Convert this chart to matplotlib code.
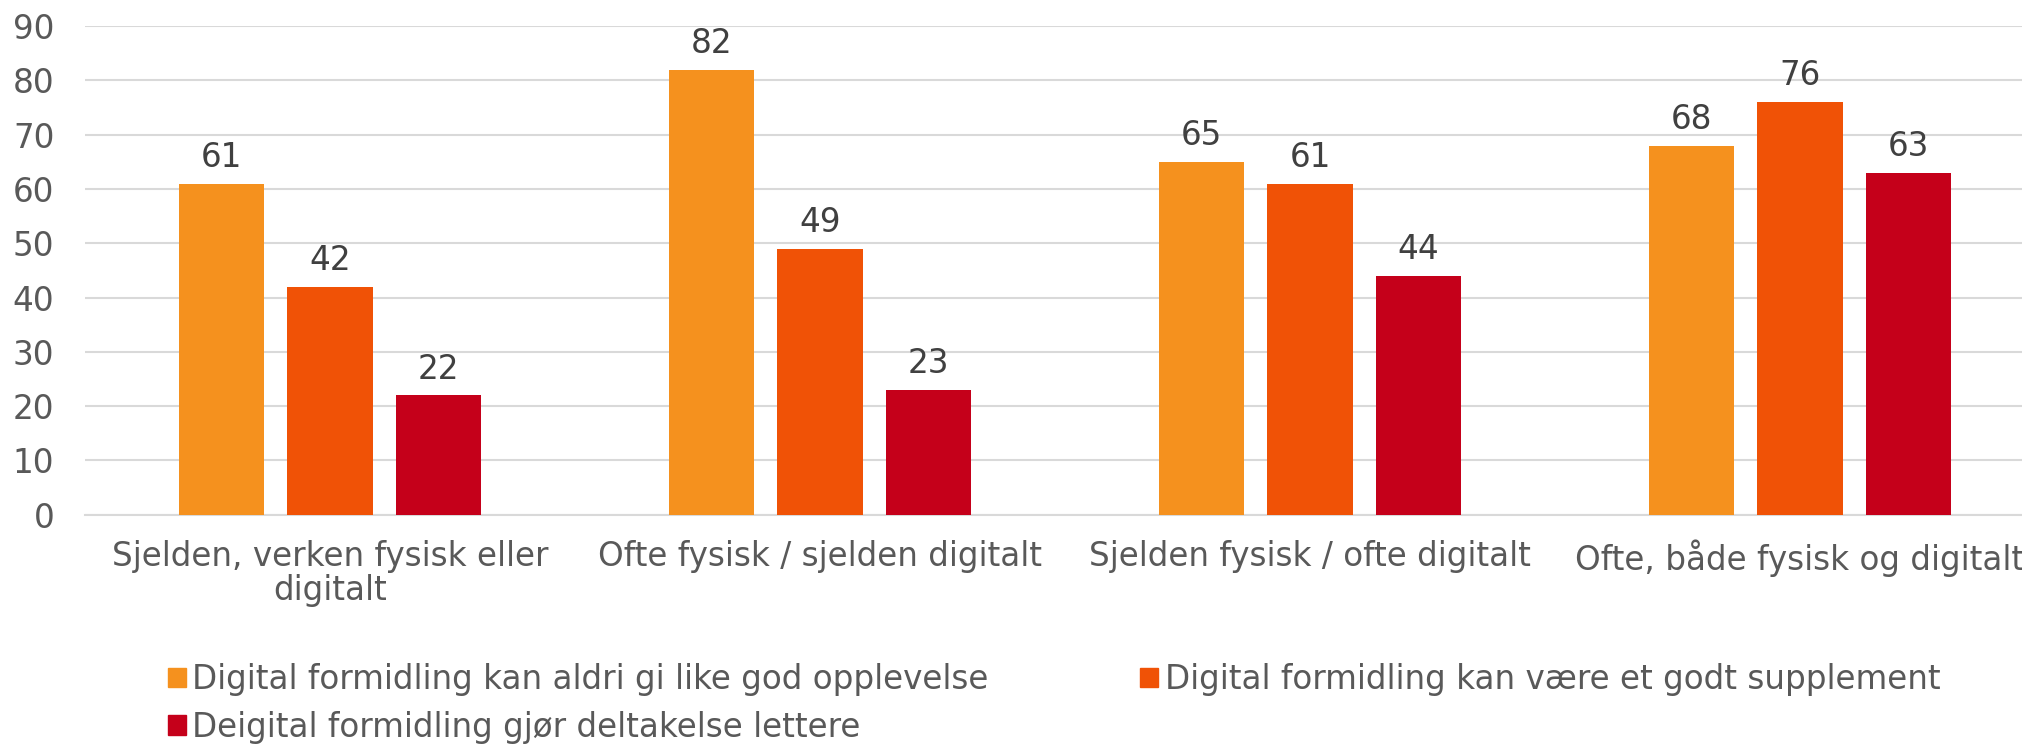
import matplotlib.pyplot as plt
from matplotlib.patches import Patch
import numpy as np

categories = ['Sjelden, verken fysisk eller\ndigitalt',
              'Ofte fysisk / sjelden digitalt',
              'Sjelden fysisk / ofte digitalt',
              'Ofte, både fysisk og digitalt']
series_names = ['Digital formidling kan aldri gi like god opplevelse',
                'Digital formidling kan være et godt supplement',
                'Deigital formidling gjør deltakelse lettere']
aldri = [61, 82, 65, 68]
supplement = [42, 49, 61, 76]
lettere = [22, 23, 44, 63]
yticks = [0, 10, 20, 30, 40, 50, 60, 70, 80, 90]

colors = ['#F5911E', '#F05206', '#C5001A']
plt.rcParams['font.family'] = 'DejaVu Sans'
fs = 23.5

fig = plt.figure(figsize=(20.22, 7.45), dpi=100)
ax = fig.add_axes([0.042, 0.309, 0.958, 0.656])

x = np.arange(len(categories))
width = 0.174
step = 0.221
for i, (vals, c) in enumerate(zip([aldri, supplement, lettere], colors)):
    pos = x + (i - 1) * step
    bars = ax.bar(pos, vals, width, color=c, zorder=3)
    for b, v in zip(bars, vals):
        ax.annotate(str(v), (b.get_x() + b.get_width() / 2, v),
                    xytext=(0, 7), textcoords='offset points',
                    ha='center', va='bottom', fontsize=fs, color='#404040')

# plot area is cut at the right edge, like the original
ax.set_xlim(-0.5, 3.453)
ax.set_ylim(0, 90)
ax.set_yticks(yticks)
ax.yaxis.grid(True, color='#D9D9D9', linewidth=1.5, zorder=0)
ax.set_axisbelow(True)
for s in ['top', 'right', 'left']:
    ax.spines[s].set_visible(False)
ax.spines['bottom'].set_color('#D9D9D9')
ax.spines['bottom'].set_linewidth(1.5)
ax.tick_params(axis='both', length=0, labelsize=fs, labelcolor='#595959')
ax.tick_params(axis='y', pad=22)
ax.tick_params(axis='x', pad=18)
ax.set_xticks(x)
ax.set_xticklabels(categories, linespacing=1.05)

handles = [Patch(color=c) for c in colors]
order = [0, 2, 1]
fig.legend([handles[k] for k in order], [series_names[k] for k in order],
           ncol=2, loc='upper left', bbox_to_anchor=(0.083, 0.11),
           frameon=False, fontsize=fs, labelcolor='#595959',
           handlelength=0.55, handleheight=0.55, handletextpad=0.2,
           columnspacing=4.64, labelspacing=0.45, borderaxespad=0, borderpad=0)

fig.savefig('out.png', dpi=100)
